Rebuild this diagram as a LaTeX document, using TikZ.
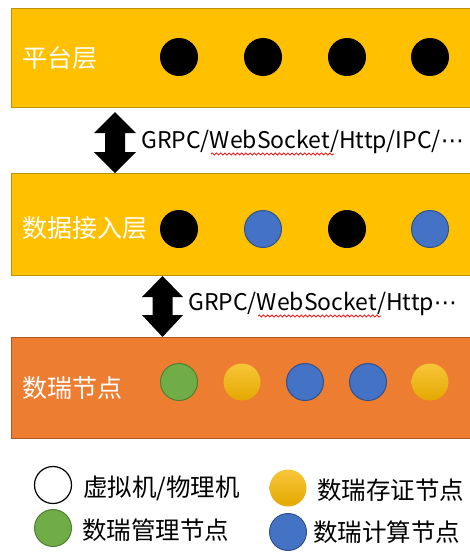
\documentclass[tikz,border=0pt]{standalone}
\usepackage{fontspec}
\setmainfont{Noto Sans CJK SC}
\newfontfamily\symfont{DejaVu Sans}
\usetikzlibrary{calc,decorations.pathmorphing}

\definecolor{goldfill}{HTML}{FFC000}
\definecolor{goldline}{HTML}{BF9000}
\definecolor{orangefill}{HTML}{ED7D31}
\definecolor{orangeline}{HTML}{AE5A21}
\definecolor{bluefill}{HTML}{4472C4}
\definecolor{blueline}{HTML}{2F528F}
\definecolor{greenfill}{HTML}{70AD47}
\definecolor{greenline}{HTML}{507E32}
\definecolor{ytop}{HTML}{F8C53A}
\definecolor{ymid}{HTML}{FFC000}
\definecolor{ybot}{HTML}{E3A900}

\tikzset{
  layer/.style={rectangle, draw=goldline, fill=goldfill, line width=1pt,
    anchor=north west, minimum width=470, inner sep=0},
  nodelayer/.style={layer, draw=orangeline, fill=orangefill},
  layertext/.style={anchor=west, text=white, font=\fontsize{25}{25}\selectfont, inner sep=0},
  dot/.style={circle, minimum size=37, inner sep=0, line width=1pt},
  vmdot/.style={dot, fill=black, draw=black},
  computedot/.style={dot, fill=bluefill, draw=blueline},
  managedot/.style={dot, fill=greenfill, draw=greenline},
  storedot/.style={dot, top color=ytop, middle color=ymid, bottom color=ybot, draw=none},
  hostdot/.style={dot, fill=white, draw=black, line width=1.2pt},
  proto/.style={anchor=west, font=\fontsize{23}{24}\selectfont, inner sep=0},
  legendtext/.style={anchor=west, font=\fontsize{24.5}{25}\selectfont, inner sep=0},
  blockarrow/.style={fill=black},
  spell/.style={draw=red, line width=0.7pt, decorate,
    decoration={snake, amplitude=1.1pt, segment length=4.2pt}}
}

\begin{document}
\begin{tikzpicture}[x=1pt, y=-1pt]
\useasboundingbox (0,0) rectangle (470,552);
\clip (0,0) rectangle (470,552);

% ---- platform layer
\node[layer, minimum height=99] (L1) at (11,8) {};
\node[layertext] (t1) at (22,58) {平台层};
\node[vmdot] (p1) at (179,57) {};
\node[vmdot] (p2) at (263,57) {};
\node[vmdot] (p3) at (347,57) {};
\node[vmdot] (p4) at (430,57) {};

% ---- data access layer
\node[layer, minimum height=102] (L2) at (11,173) {};
\node[layertext] (t2) at (22,228) {数据接入层};
\node[vmdot] (a1) at (179,229) {};
\node[computedot] (a2) at (263,229) {};
\node[vmdot] (a3) at (347,229) {};
\node[computedot] (a4) at (430,229) {};

% ---- node layer
\node[nodelayer, minimum height=101] (L3) at (11,337) {};
\node[layertext] (t3) at (22,388) {数瑞节点};
\node[managedot] (n1) at (179,382) {};
\node[storedot] (n2) at (242,382) {};
\node[computedot] (n3) at (305,382) {};
\node[computedot] (n4) at (368,382) {};
\node[storedot] (n5) at (430,382) {};

% ---- double block arrows between layers
\coordinate (u1) at (L1.south -| 115,0);
\coordinate (u1t) at ($(u1)+(0,4)$);
\coordinate (u1b) at (L2.north -| 115,0);
\fill[blockarrow] (u1t) -- ++(21,21) -- ++(-11,0) -- ($(u1b)+(10,-21)$) -- ++(11,0)
  -- (u1b) -- ++(-21,-21) -- ++(11,0) -- ($(u1t)+(-10,21)$) -- ++(-11,0) -- cycle;

\coordinate (u2t) at (L2.south -| 162.5,0);
\coordinate (u2b) at (L3.north -| 162.5,0);
\fill[blockarrow] (u2t) -- ++(20.5,21) -- ++(-10.5,0) -- ($(u2b)+(10,-22)$) -- ++(10.5,0)
  -- (u2b) -- ++(-20.5,-22) -- ++(10.5,0) -- ($(u2t)+(-10,21)$) -- ++(-10.5,0) -- cycle;

% ---- protocol labels
\node[proto] (g1) at (141,142) {GRPC/WebSocket/Http/IPC/{\symfont ⋯}};
\draw[spell] (211,154) -- (334,154);
\node[proto] (g2) at (188,304) {GRPC/WebSocket/Http{\symfont ⋯}};
\draw[spell] (258,316) -- (381,316);

% ---- legend
\node[hostdot] (k1) at (53,485) {};
\node[legendtext] (k1t) at (83,488) {虚拟机/物理机};
\node[storedot] (k2) at (288,488) {};
\node[legendtext] (k2t) at (317,490) {数瑞存证节点};
\node[managedot] (k3) at (53,528) {};
\node[legendtext] (k3t) at (82,530) {数瑞管理节点};
\node[computedot] (k4) at (288,532) {};
\node[legendtext] (k4t) at (313,532) {数瑞计算节点};
\end{tikzpicture}
\end{document}
